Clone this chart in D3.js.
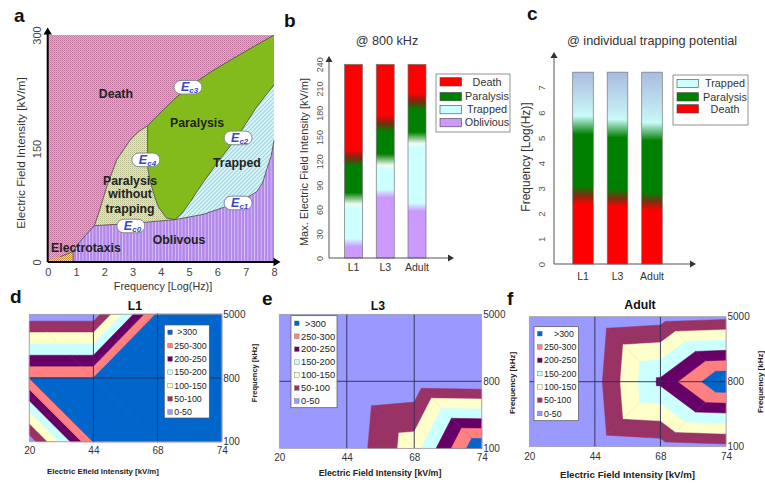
<!DOCTYPE html>
<html><head><meta charset="utf-8">
<script src="https://cdn.jsdelivr.net/npm/d3@7"></script>
<style>body{margin:0;background:#fff}svg{display:block}text{font-family:"Liberation Sans",Arial,sans-serif}</style>
</head><body><svg id="chart" width="765" height="485"></svg>
<script>
// ================= DATA =================
// Panel a: region boundaries  [frequency log(Hz), field kV/m]
const aDeathEdge = [[0.9,14],[1.14,27],[1.65,48],[1.85,70],[2.08,99],[2.44,135],[2.91,161],[3.2,172],[3.53,180]];
const aEc3 = [[3.53,180],[4.0,198],[4.44,214],[4.97,231],[5.8,252],[6.56,269],[7.3,285],[8,300]];
const aEc4 = [[3.53,180],[3.53,126],[3.6,110],[3.68,99],[3.8,84],[3.91,73],[4.2,58],[4.5,56]];
const aEc0 = [[1.65,48],[3.0,51],[4.5,56]];
const aEc1 = [[4.5,56],[5.5,63],[6.44,75],[7.0,84],[7.39,93],[7.6,105],[7.74,122],[7.9,140],[8,161]];
const aEc2 = [[4.5,56],[4.74,64],[5.05,80],[5.38,99],[5.97,130],[6.68,164],[7.39,205],[8,234]];
const aElectrotaxis = [[0,0],[0.9,0],[0.9,14],[0.45,7],[0,2]];
const aXTicks = [0,1,2,3,4,5,6,7,8];
const aYTicks = [0,150,300];
const aRegionLabels = [
  {t:"Death",x:2.41,y:222},{t:"Paralysis",x:5.28,y:184},{t:"Trapped",x:6.69,y:132},
  {t:"Paralysis",x:2.91,y:108},{t:"without",x:2.91,y:90},{t:"trapping",x:2.91,y:70},
  {t:"Oblivous",x:4.64,y:29},{t:"Electrotaxis",x:1.35,y:18.5}
];
const aEcLabels = [{s:"c3",x:4.96,y:231},{s:"c2",x:6.73,y:164},{s:"c4",x:3.47,y:135},{s:"c1",x:6.73,y:78},{s:"c0",x:2.94,y:47.6}];

// Panel b: max field at 800 kHz (kV/m)
const bStages = ["L1","L3","Adult"];
const bObliviousTop = [19, 80, 63];
const bTrappedTop   = [71, 119, 146];
const bParalysisTop = [124, 167, 194];
const bMax = 240;
const bYTicks = [0,30,60,90,120,150,180,210,240];
const bLegend = ["Death","Paralysis","Trapped","Oblivious"];

// Panel c: frequency at individual trapping potential (log Hz)
const cStages = ["L1","L3","Adult"];
const cDeathTop     = [2.73, 2.6, 2.47];
const cParalysisTop = [5.5, 5.37, 5.24];
const cMax = 7.6;
const cYTicks = [0,1,2,3,4,5,6,7];
const cLegend = ["Trapped","Paralysis","Death"];

// Panels d-f: surface (contour) values, rows = frequency, cols = field
const fieldTicks = ["20","44","68","74"];
const freqTicks  = ["5000","800","100"];
const gridL1    = [[20,20,310,400],[300,300,305,400],[20,302,400,400]];
const gridL3    = [[5,5,5,5],[5,5,15,10],[5,15,128,350]];
const gridAdult = [[5,15,26,37],[5,29,212,352],[5,15,26,37]];
const bandLo     = [0,50,100,150,200,250,300];
const bandLabels = ["0-50","50-100","100-150","150-200","200-250","250-300",">300"];

// ================= STYLE =================
const bandColors = ["#9999ff","#993366","#ffffcc","#ccffff","#660066","#ff8080","#0066cc"];
const stageColor = {Death:"#ff0000",Paralysis:"#008000",Trapped:"#ccffff",Oblivious:"#cc99ff"};

const svg = d3.select("#chart");
svg.append("rect").attr("width",765).attr("height",485).attr("fill","#fff");
const defs = svg.append("defs");

function pattern(id,w,h,bg,fn){
  const p = defs.append("pattern").attr("id",id).attr("width",w).attr("height",h).attr("patternUnits","userSpaceOnUse");
  p.append("rect").attr("width",w).attr("height",h).attr("fill",bg);
  fn(p);
}
pattern("pDeath",2,2,"#e3aacb",p=>{p.append("rect").attr("width",1).attr("height",1).attr("fill","#bb7099");p.append("rect").attr("x",1).attr("y",1).attr("width",1).attr("height",1).attr("fill","#c98aab");});
pattern("pKhaki",2,2,"#e3e8c0",p=>{p.append("rect").attr("width",1).attr("height",1).attr("fill","#b4b88a");p.append("rect").attr("x",1).attr("y",1).attr("width",1).attr("height",1).attr("fill","#cfd3a6");});
pattern("pElec",2,2,"#f8d878",p=>{p.append("rect").attr("width",1).attr("height",1).attr("fill","#c89038");p.append("rect").attr("x",1).attr("y",1).attr("width",1).attr("height",1).attr("fill","#c89038");});
pattern("pTrap",4,4,"#dcf7fa",p=>{p.append("path").attr("d","M-1,1L1,-1M0,4L4,0M3,5L5,3").attr("stroke","#98d6e4").attr("stroke-width",1.1);});
pattern("pObl",3.3,4,"#b387ea",p=>{p.append("rect").attr("width",0.9).attr("height",4).attr("fill","#dac6f6");});

function arrowHead(g,x,y,dir,size,color){
  const s=size;
  const d = dir==="up" ? `M${x},${y}L${x-s*0.6},${y+s}L${x+s*0.6},${y+s}Z` : `M${x},${y}L${x-s},${y-s*0.6}L${x-s},${y+s*0.6}Z`;
  g.append("path").attr("d",d).attr("fill",color);
}
function panelLetter(t,x,y){svg.append("text").attr("x",x).attr("y",y).attr("font-size",19).attr("font-weight","bold").attr("fill","#111").text(t);}

// ================= PANEL A =================
(function(){
  const g = svg.append("g");
  const x = d3.scaleLinear([0,8],[47.7,274]);
  const y = d3.scaleLinear([0,300],[262,35]);
  const line = d3.line().x(d=>x(d[0])).y(d=>y(d[1]));
  const rev = a=>a.slice().reverse();
  g.append("rect").attr("x",x(0)).attr("y",y(300)).attr("width",x(8)-x(0)).attr("height",y(0)-y(300)).attr("fill","url(#pDeath)");
  const obl = [[0.9,0],[8,0]].concat(rev(aEc1), rev(aEc0).slice(1), rev(aDeathEdge.slice(0,2)));
  const trap = aEc1.concat([[8,234]], rev(aEc2));
  const para = aEc2.concat([[8,300]], rev(aEc3), aEc4.slice(1));
  const khaki = aDeathEdge.slice(2).concat(aEc4.slice(1), rev(aEc0).slice(1));
  const closed = p=>line(p)+"Z";
  g.append("path").attr("d",closed(obl)).attr("fill","url(#pObl)");
  g.append("path").attr("d",closed(trap)).attr("fill","url(#pTrap)");
  g.append("path").attr("d",closed(para)).attr("fill","#84bb1c");
  g.append("path").attr("d",closed(khaki)).attr("fill","url(#pKhaki)");
  g.append("path").attr("d",closed(aElectrotaxis)).attr("fill","url(#pElec)");
  [aDeathEdge,aEc3,aEc4,aEc0,aEc1,aEc2,aElectrotaxis.slice(1,4)].forEach(c=>{
    g.append("path").attr("d",line(c)).attr("fill","none").attr("stroke","#4a4a4a").attr("stroke-width",0.8);
  });
  g.selectAll("text.rl").data(aRegionLabels).join("text").attr("class","rl")
    .attr("x",d=>x(d.x)).attr("y",d=>y(d.y)).attr("dy","0.36em").attr("text-anchor","middle")
    .attr("font-size",12.3).attr("font-weight","bold").attr("fill","#222").text(d=>d.t);
  const pills = g.selectAll("g.pill").data(aEcLabels).join("g").attr("class","pill")
    .attr("transform",d=>`translate(${x(d.x)},${y(d.y)})`);
  pills.append("rect").attr("x",-14).attr("y",-6.8).attr("width",28).attr("height",13.6).attr("rx",6.8)
    .attr("fill","#fff").attr("stroke","#7a7f8a").attr("stroke-width",0.9);
  const tx = pills.append("text").attr("x",-7).attr("y",4).attr("font-size",12.5).attr("font-weight","bold")
    .attr("font-style","italic").attr("fill","#3b46c9");
  tx.append("tspan").text("E");
  tx.append("tspan").attr("font-size",8).attr("dy",2).text(d=>d.s);
  g.append("line").attr("x1",x(0)).attr("y1",y(0)).attr("x2",x(0)).attr("y2",33).attr("stroke","#000").attr("stroke-width",2);
  g.append("line").attr("x1",x(0)).attr("y1",y(0)).attr("x2",275).attr("y2",y(0)).attr("stroke","#000").attr("stroke-width",2);
  arrowHead(g,x(0),27.5,"up",7,"#000");
  arrowHead(g,280.5,y(0),"right",7,"#000");
  const ax = g.append("g").attr("transform",`translate(0,${y(0)})`)
    .call(d3.axisBottom(x).tickValues(aXTicks).tickSize(0).tickPadding(6).tickFormat(d3.format("d")));
  ax.select(".domain").remove();
  ax.selectAll("text").attr("font-size",11).attr("fill","#444").attr("font-family",'"Liberation Sans",Arial,sans-serif');
  const ay = g.append("g").attr("transform",`translate(${x(0)},0)`)
    .call(d3.axisLeft(y).tickValues(aYTicks).tickSize(0).tickFormat(d3.format("d")));
  ay.select(".domain").remove();
  ay.selectAll("text").attr("transform","rotate(-90)").attr("x",0).attr("y",-7).attr("dy",0).attr("text-anchor","middle")
    .attr("font-size",11).attr("fill","#444").attr("font-family",'"Liberation Sans",Arial,sans-serif');
  g.append("text").attr("x",163).attr("y",289.5).attr("text-anchor","middle").attr("font-size",10.8).attr("fill","#333").text("Frequency [Log(Hz)]");
  g.append("text").attr("transform","translate(25,153) rotate(-90)").attr("text-anchor","middle").attr("font-size",11.8).attr("fill","#333").text("Electric Field Intensity [kV/m]");
})();
panelLetter("a",14,22);

// ================= gradient bar helper =================
function makeGrad(id,stops){
  const lg = defs.append("linearGradient").attr("id",id).attr("x1",0).attr("y1",1).attr("x2",0).attr("y2",0);
  stops.forEach(s=>lg.append("stop").attr("offset",Math.max(0,Math.min(1,s[0]))).attr("stop-color",s[1]));
}
function legendBox(g,x0,y0,w,h,items,colors,rowY,textX){
  g.append("rect").attr("x",x0).attr("y",y0).attr("width",w).attr("height",h).attr("fill","#fff").attr("stroke","#777").attr("stroke-width",0.8);
  items.forEach((it,i)=>{
    g.append("rect").attr("x",x0+4).attr("y",rowY[i]-4).attr("width",21.5).attr("height",8.3).attr("fill",colors[i]).attr("stroke","#444").attr("stroke-width",0.6);
    g.append("text").attr("x",textX).attr("y",rowY[i]).attr("dy","0.36em").attr("text-anchor","middle").attr("font-size",10.8).attr("fill","#333").text(it);
  });
}

// ================= PANEL B =================
(function(){
  const g = svg.append("g");
  const x = d3.scaleBand(bStages,[344.5,426]).paddingInner(0.433).paddingOuter(0);
  const y = d3.scaleLinear([0,bMax],[258,64.3]);
  const bl = 10;
  bStages.forEach((s,i)=>{
    const o=bObliviousTop[i], t=bTrappedTop[i], p=bParalysisTop[i];
    makeGrad("gb"+i,[[0,stageColor.Oblivious],[(o-5)/bMax,stageColor.Oblivious],[(o+5)/bMax,stageColor.Trapped],
      [(t-bl)/bMax,stageColor.Trapped],[(t-bl*0.4)/bMax,"#eefaf4"],[(t+bl)/bMax,stageColor.Paralysis],
      [(p-bl)/bMax,stageColor.Paralysis],[p/bMax,"#7a2a10"],[(p+bl)/bMax,stageColor.Death],[1,stageColor.Death]]);
  });
  g.selectAll("rect.bar").data(bStages).join("rect").attr("class","bar")
    .attr("x",d=>x(d)).attr("width",x.bandwidth()).attr("y",y(bMax)).attr("height",y(0)-y(bMax))
    .attr("fill",(d,i)=>`url(#gb${i})`).attr("stroke","#777").attr("stroke-width",0.7);
  g.append("line").attr("x1",329).attr("y1",y(0)).attr("x2",329).attr("y2",61).attr("stroke","#555").attr("stroke-width",1);
  g.append("line").attr("x1",329).attr("y1",y(0)).attr("x2",449).attr("y2",y(0)).attr("stroke","#555").attr("stroke-width",1);
  arrowHead(g,329,56,"up",6,"#333");
  arrowHead(g,454,y(0),"right",6,"#333");
  const ay = g.append("g").attr("transform","translate(329,0)").call(d3.axisLeft(y).tickValues(bYTicks).tickSize(0).tickFormat(d3.format("d")));
  ay.select(".domain").remove();
  ay.selectAll("text").attr("transform","rotate(-90)").attr("x",0).attr("y",-6).attr("dy",0).attr("text-anchor","middle")
    .attr("font-size",9).attr("fill","#555").attr("font-family",'"Liberation Sans",Arial,sans-serif');
  const ax = g.append("g").attr("transform",`translate(0,${y(0)})`).call(d3.axisBottom(x).tickSize(0).tickPadding(6));
  ax.select(".domain").remove();
  ax.selectAll("text").attr("font-size",10.5).attr("fill","#333").attr("font-family",'"Liberation Sans",Arial,sans-serif');
  g.append("text").attr("x",387).attr("y",45).attr("text-anchor","middle").attr("font-size",12.6).attr("fill","#333").text("@ 800 kHz");
  g.append("text").attr("transform","translate(308,162) rotate(-90)").attr("text-anchor","middle").attr("font-size",11).attr("fill","#333").text("Max. Electric Field Intensity [kV/m]");
  legendBox(g,436,74,74,58,bLegend,bLegend.map(k=>stageColor[k]),[81.7,96.5,109.5,122.5],487);
})();
panelLetter("b",284,26.5);

// ================= PANEL C =================
(function(){
  const g = svg.append("g");
  const x = d3.scaleBand(cStages,[572.7,662.3]).paddingInner(0.403).paddingOuter(0);
  const y = d3.scaleLinear([0,7],[264,87.3]);
  const bl = 0.36;
  cStages.forEach((s,i)=>{
    const d=cDeathTop[i], p=cParalysisTop[i];
    makeGrad("gc"+i,[[0,stageColor.Death],[(d-bl)/cMax,stageColor.Death],[d/cMax,"#7a3010"],[(d+bl)/cMax,stageColor.Paralysis],
      [(p-bl)/cMax,stageColor.Paralysis],[(p+bl)/cMax,"#c8fbf8"],[(p+0.7)/cMax,"#c4ecf2"],[1,"#a9bbdf"]]);
  });
  g.selectAll("rect.bar").data(cStages).join("rect").attr("class","bar")
    .attr("x",d=>x(d)).attr("width",x.bandwidth()).attr("y",y(cMax)).attr("height",y(0)-y(cMax))
    .attr("fill",(d,i)=>`url(#gc${i})`).attr("stroke","#777").attr("stroke-width",0.7);
  g.append("line").attr("x1",554).attr("y1",y(0)).attr("x2",554).attr("y2",57).attr("stroke","#555").attr("stroke-width",1);
  g.append("line").attr("x1",554).attr("y1",y(0)).attr("x2",691).attr("y2",y(0)).attr("stroke","#555").attr("stroke-width",1);
  arrowHead(g,554,52,"up",6,"#333");
  arrowHead(g,696,y(0),"right",6,"#333");
  const ay = g.append("g").attr("transform","translate(554,0)").call(d3.axisLeft(y).tickValues(cYTicks).tickSize(0).tickFormat(d3.format("d")));
  ay.select(".domain").remove();
  ay.selectAll("text").attr("transform","rotate(-90)").attr("x",0).attr("y",-9.5).attr("dy",0).attr("text-anchor","middle")
    .attr("font-size",9.5).attr("fill","#555").attr("font-family",'"Liberation Sans",Arial,sans-serif');
  const ax = g.append("g").attr("transform",`translate(0,${y(0)})`).call(d3.axisBottom(x).tickSize(0).tickPadding(9));
  ax.select(".domain").remove();
  ax.selectAll("text").attr("font-size",10.5).attr("fill","#333").attr("font-family",'"Liberation Sans",Arial,sans-serif');
  g.append("text").attr("x",652).attr("y",45).attr("text-anchor","middle").attr("font-size",12.7).attr("fill","#333").text("@ individual trapping potential");
  g.append("text").attr("transform","translate(530,157) rotate(-90)").attr("text-anchor","middle").attr("font-size",12).attr("fill","#333").text("Frequency [Log(Hz)]");
  legendBox(g,673,75,75,50,cLegend,cLegend.map(k=>stageColor[k]),[83.3,96.7,108.7],725);
})();
panelLetter("c",527,20);

// ================= PANELS D-F (surface contour) =================
function clipGE(poly,lo){
  const out=[];
  for(let i=0;i<poly.length;i++){
    const P=poly[i],Q=poly[(i+1)%poly.length];
    const pin=P.v>=lo,qin=Q.v>=lo;
    if(pin) out.push(P);
    if(pin!==qin){const t=(lo-P.v)/(Q.v-P.v);out.push({x:P.x+t*(Q.x-P.x),y:P.y+t*(Q.y-P.y),v:lo});}
  }
  return out;
}
function contourPanel(o){
  const g = svg.append("g");
  const x = d3.scalePoint(fieldTicks,[o.x0,o.x1]);
  const y = d3.scalePoint(freqTicks,[o.y0,o.y1]);
  const grid = o.grid;
  const P=(r,c)=>({x:x(fieldTicks[c]),y:y(freqTicks[r]),v:grid[r][c]});
  const tris=[];
  for(let r=0;r<freqTicks.length-1;r++) for(let c=0;c<fieldTicks.length-1;c++){
    const TL=P(r,c),TR=P(r,c+1),BL=P(r+1,c),BR=P(r+1,c+1);
    const mx=Math.max(TL.v,TR.v,BL.v,BR.v);
    if(TL.v===mx||BR.v===mx){tris.push([TL,TR,BR],[TL,BR,BL]);}
    else {tris.push([TL,TR,BL],[TR,BR,BL]);}
  }
  g.append("rect").attr("x",o.x0).attr("y",o.y0).attr("width",o.x1-o.x0).attr("height",o.y1-o.y0).attr("fill",bandColors[0]);
  for(let k=1;k<bandLo.length;k++){
    tris.forEach(t=>{
      const poly=clipGE(t,bandLo[k]);
      if(poly.length>=3) g.append("path").attr("d","M"+poly.map(p=>p.x+","+p.y).join("L")+"Z")
        .attr("fill",bandColors[k]).attr("stroke",bandColors[k]).attr("stroke-width",0.5).attr("stroke-linejoin","round");
    });
  }
  ["44","68"].forEach(v=>g.append("line").attr("x1",x(v)).attr("x2",x(v)).attr("y1",o.y0).attr("y2",o.y1).attr("stroke","#2b2d55").attr("stroke-width",0.9));
  g.append("line").attr("x1",o.x0).attr("x2",o.x1).attr("y1",y("800")).attr("y2",y("800")).attr("stroke","#2b2d55").attr("stroke-width",0.9);
  g.append("rect").attr("x",o.x0).attr("y",o.y0).attr("width",o.x1-o.x0).attr("height",o.y1-o.y0).attr("fill","none").attr("stroke","#9a9a9a").attr("stroke-width",0.7);
  const ax = g.append("g").attr("transform",`translate(0,${o.y1})`).call(d3.axisBottom(x).tickSize(0).tickPadding(o.xpad));
  ax.select(".domain").remove();
  ax.selectAll("text").attr("font-size",10).attr("fill","#333").attr("font-family",'"Liberation Sans",Arial,sans-serif');
  const ay = g.append("g").attr("transform",`translate(${o.x1},0)`).call(d3.axisRight(y).tickSize(0).tickPadding(1.5));
  ay.select(".domain").remove();
  ay.selectAll("text").attr("font-size",10).attr("fill","#333").attr("font-family",'"Liberation Sans",Arial,sans-serif');
  g.append("text").attr("x",o.tx).attr("y",o.ty).attr("text-anchor","middle").attr("font-size",12.3).attr("font-weight","bold").attr("fill","#111").text(o.title);
  g.append("text").attr("x",o.lx).attr("y",o.ly).attr("text-anchor","middle").attr("font-size",o.lfs).attr("font-weight","bold").attr("fill","#222").text(o.xlabel);
  const L=o.leg;
  g.append("rect").attr("x",L.x).attr("y",L.y).attr("width",L.w).attr("height",L.h).attr("fill","#fff").attr("stroke","#555").attr("stroke-width",0.7);
  const order=d3.range(bandLo.length).reverse();
  order.forEach((k,i)=>{
    const cy=L.y+L.first+i*L.step;
    g.append("rect").attr("x",L.x+3.5).attr("y",cy-2.3).attr("width",4.6).attr("height",4.6).attr("fill",bandColors[k]).attr("stroke","#666").attr("stroke-width",0.4);
    g.append("text").attr("x",L.x+(k===bandLo.length-1?L.firstX:10)).attr("y",cy).attr("dy","0.35em").attr("font-size",L.fs).attr("fill","#222").text(bandLabels[k]);
  });
}
contourPanel({grid:gridL1,x0:29.3,x1:221.7,y0:314.3,y1:441.7,xpad:5,title:"L1",tx:135,ty:310,
  xlabel:"Electric Efield Intensity [kV/m]",lx:103,ly:474,lfs:7.8,leg:{x:164.3,y:325,w:45,h:93,first:7.3,step:13.3,fs:8.8,firstX:13}});
contourPanel({grid:gridL3,x0:279.3,x1:481.7,y0:314.3,y1:448.3,xpad:6,title:"L3",tx:378,ty:310,
  xlabel:"Electric Field Intensity [kV/m]",lx:380,ly:476,lfs:8.8,leg:{x:291,y:315.7,w:46,h:92,first:7.6,step:12.95,fs:9.3,firstX:14}});
contourPanel({grid:gridAdult,x0:529.3,x1:726,y0:316.7,y1:446.7,xpad:6,title:"Adult",tx:640,ty:309,
  xlabel:"Electric Field Intensity [kV/m]",lx:627.5,ly:478,lfs:9.7,leg:{x:534,y:326.7,w:44.5,h:94,first:7,step:13.3,fs:8.8,firstX:20}});
[[254.5,373,7.5],[512,383,8],[760,382,8]].forEach(p=>{
  svg.append("text").attr("transform",`translate(${p[0]},${p[1]}) rotate(-90)`).attr("text-anchor","middle").attr("dy","0.35em")
    .attr("font-size",p[2]).attr("font-weight","bold").attr("fill","#222").text("Frequency [kHz]");
});
panelLetter("d",10,303);
panelLetter("e",262,305);
panelLetter("f",507,305);
</script></body></html>
